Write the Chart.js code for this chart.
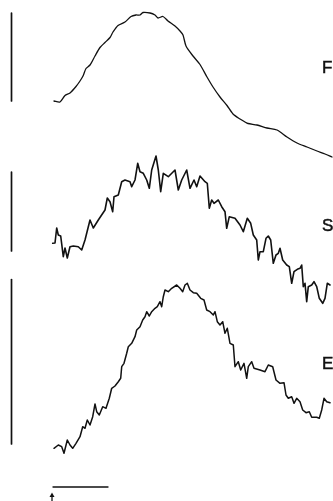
<!DOCTYPE html>
<html>
<head>
<meta charset="utf-8">
<script src="https://cdn.jsdelivr.net/npm/chart.js@4/dist/chart.umd.min.js"></script>
<style>
  html, body { margin: 0; padding: 0; background: #fff; }
  #wrap { width: 333px; height: 501px; }
</style>
</head>
<body>
<div id="wrap"><canvas id="c" width="333" height="501"></canvas></div>
<script>
// Trace labels, top to bottom
const traceNames = ['F', 'S', 'E'];

// Time after the stimulus marker (arbitrary time units) and response amplitude
// relative to each trace's starting level (arbitrary amplitude units).
const fTimes  = [2, 8, 13, 18, 24, 28, 31, 34, 38, 43, 48, 53, 58, 61, 66, 73, 79, 84, 88, 91, 98, 103, 106, 111, 116, 123, 128, 131, 134, 141, 148, 155, 161, 168, 175, 181, 188, 193, 196, 205, 215, 225, 235, 245, 255, 265, 273, 280];
const fValues = [0, -1, 5.5, 8, 14.5, 20, 25, 32.5, 36, 45, 53.5, 58.5, 63.5, 69, 75.5, 79, 84.5, 86, 86, 88.5, 88, 86, 83, 84.5, 80, 75, 70, 66, 55, 45, 36.5, 24, 14, 4, -4.5, -13, -18, -21, -22.5, -24, -27, -29, -36, -42, -46, -50, -53, -56];

const sTimes  = [0.7, 3, 4.7, 6.3, 8.7, 11.3, 13, 15.3, 18, 21.3, 26.3, 29.7, 33, 38, 41.3, 46.3, 53, 55.3, 58, 60.7, 62, 66.3, 69.7, 73, 78, 79.7, 83, 85.7, 88, 91.3, 94.7, 97.3, 99.7, 104, 106.3, 108.7, 111.3, 116.3, 123, 126.3, 129.7, 134.7, 138, 142, 144.7, 147.3, 148, 153, 155.3, 157.3, 159.7, 162, 166.3, 169.7, 173, 174.7, 177.3, 183, 188, 191.3, 195.3, 198.7, 201.3, 204.7, 206.3, 208, 211.3, 214, 216.3, 218.7, 221.3, 224, 226.3, 228, 230.7, 234.7, 237.3, 239.7, 242, 245.3, 248, 249.7, 251.3, 253, 254.7, 256.3, 259.7, 262, 264.7, 267.3, 270.7, 273, 275.3, 278];
const sValues = [-0.3, 0, 15, 8, 7, -13.7, -5, -15, -3.7, -3, -3.7, -7, 3, 23, 15, 23, 33, 45, 41.3, 31.3, 46.3, 48, 61.3, 63, 61.3, 56.3, 63, 79.7, 71.3, 69.7, 63, 54.7, 73, 87, 73, 51.3, 69.7, 66.3, 73, 53, 63, 73, 54.7, 63, 56.3, 64.7, 67, 61.3, 59.7, 34.7, 43, 39.7, 43, 36.3, 31.3, 14.7, 26.3, 24.7, 18, 11.3, 24.7, 19.7, 8, 3, -17, -8.7, -8.7, 4.7, 7, 3, -20.3, -12, -10.3, -5.3, -17, -22, -23.7, -40.3, -28.7, -26.3, -25.3, -22, -43.7, -40.3, -58.7, -43.7, -42, -38.7, -43.7, -55.3, -60.3, -55.3, -40.3, -42];

const eTimes  = [2, 6.3, 9.7, 12, 15.3, 18, 20.7, 24, 28, 30.7, 33, 35.3, 38, 40.7, 43, 44.7, 47.3, 50.7, 54, 57.3, 59.7, 63, 66.3, 68.7, 69.7, 72, 74.7, 76.3, 79.7, 83, 84.7, 88, 90.7, 93, 94.7, 97.3, 99.7, 103, 105.3, 108, 109.7, 111.3, 113, 116.3, 119.7, 124.7, 128, 130.7, 133, 135.3, 138, 141.3, 144.7, 148.7, 152, 154.7, 158, 161.3, 163, 165.3, 168, 170.7, 173, 175.3, 178, 181.3, 183, 186.3, 188.7, 192, 194.7, 196.3, 199.7, 202, 208, 213, 216.3, 220.7, 224, 228, 232, 234, 236.3, 239.7, 242, 244.7, 248, 250.7, 254, 257.3, 259.7, 264.7, 267.3, 269.7, 272, 274.7, 278];
const eValues = [-0.3, 3, 1.3, -5.3, 8, 3, -0.3, 4.7, 11.3, 21.3, 19.7, 28, 23, 31.3, 44, 36.3, 33, 41.3, 39.7, 49.7, 59.7, 62, 66.3, 69.7, 81.3, 84.7, 94.7, 101.3, 104.7, 111.3, 118, 121.3, 128, 131.3, 136.3, 132, 136.3, 139.7, 141.3, 146.3, 141.3, 151.3, 158, 156.3, 159.7, 163, 159.7, 156.3, 163, 164.7, 158, 155.3, 154.7, 149.7, 148, 138, 136.3, 133, 136.3, 126.3, 123, 126.3, 114.7, 119.7, 104.7, 103, 81.3, 86.3, 78, 84.7, 69.7, 81.3, 86.3, 79.7, 78, 76.3, 83, 81.3, 68, 64.7, 65.3, 53, 49.7, 51.3, 44.7, 49.7, 46.3, 38, 35.3, 36.3, 30.7, 30.7, 29.7, 38, 49.7, 46.3, 45.3];

// Vertical calibration bars: [bottom, top] in each trace's amplitude units
const fCalBar = [0, 88];
const sCalBar = [-8, 71];
const eCalBar = [4, 168.5];
// Horizontal time calibration bar: [start, end] in time units
const timeBar = [1, 56];

const toPoints = (xs, ys) => xs.map((x, i) => ({ x, y: ys[i] }));

const INK = '#111';
const calX = -40.5;        // time position of the vertical calibration bars
const timeBarLevel = -39;  // level of the time bar below trace E
const labelX = 270;        // time position of the trace labels
const labelLevels = { yF: 33, yS: 17, yE: 84 };

const traceStyle = (w) => ({
  borderColor: INK, borderWidth: w, pointRadius: 0, fill: false,
  tension: 0, borderJoinStyle: 'round', borderCapStyle: 'round'
});

const datasets = [
  { label: traceNames[0], data: toPoints(fTimes, fValues), yAxisID: 'yF', ...traceStyle(1.3), tension: 0.25 },
  { label: traceNames[1], data: toPoints(sTimes, sValues), yAxisID: 'yS', ...traceStyle(1.6) },
  { label: traceNames[2], data: toPoints(eTimes, eValues), yAxisID: 'yE', ...traceStyle(1.5) },
  { label: 'cal F', data: toPoints([calX, calX], fCalBar), yAxisID: 'yF', ...traceStyle(1.7) },
  { label: 'cal S', data: toPoints([calX, calX], sCalBar), yAxisID: 'yS', ...traceStyle(1.7) },
  { label: 'cal E', data: toPoints([calX, calX], eCalBar), yAxisID: 'yE', ...traceStyle(1.7) },
  { label: 'time', data: toPoints(timeBar, [timeBarLevel, timeBarLevel]), yAxisID: 'yE', ...traceStyle(1.3) }
];

// Trace labels at the right and the stimulus arrow under the time bar
const annotations = {
  id: 'annotations',
  afterDatasetsDraw(chart) {
    const { ctx, scales } = chart;
    ctx.save();
    ctx.fillStyle = INK;
    ctx.strokeStyle = INK;
    ctx.font = '17px "Liberation Sans", Arial, sans-serif';
    ctx.textAlign = 'left';
    ctx.textBaseline = 'middle';
    ctx.lineWidth = 0.5;
    ['yF', 'yS', 'yE'].forEach((id, i) => {
      const x = scales.x.getPixelForValue(labelX);
      const y = scales[id].getPixelForValue(labelLevels[id]);
      ctx.fillText(traceNames[i], x, y);
      ctx.strokeText(traceNames[i], x, y);
    });

    // stimulus arrow at time zero
    const ax = scales.x.getPixelForValue(0);
    const tip = scales.yE.getPixelForValue(-44.5);
    const base = scales.yE.getPixelForValue(-56);
    ctx.lineWidth = 1.3;
    ctx.beginPath();
    ctx.moveTo(ax, base);
    ctx.lineTo(ax, tip + 2);
    ctx.stroke();
    ctx.beginPath();
    ctx.moveTo(ax, tip);
    ctx.lineTo(ax - 2.5, tip + 4.5);
    ctx.lineTo(ax + 2.5, tip + 4.5);
    ctx.closePath();
    ctx.fill();
    ctx.restore();
  }
};

const hidden = { display: false };
new Chart(document.getElementById('c'), {
  type: 'line',
  data: { datasets },
  options: {
    responsive: false,
    animation: false,
    layout: { padding: 0 },
    plugins: { legend: hidden, tooltip: { enabled: false }, title: hidden },
    scales: {
      x:  { type: 'linear', min: -52, max: 281, ...hidden },
      yF: { type: 'linear', min: -400, max: 101, ...hidden },
      yS: { type: 'linear', min: -258, max: 243, ...hidden },
      yE: { type: 'linear', min: -53, max: 448, ...hidden }
    }
  },
  plugins: [annotations]
});
</script>
</body>
</html>
